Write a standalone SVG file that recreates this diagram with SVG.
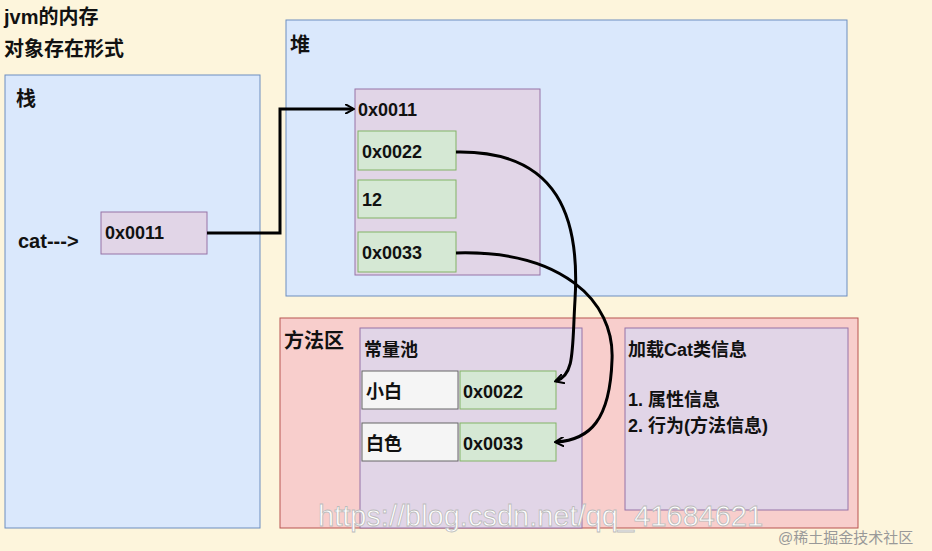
<svg xmlns="http://www.w3.org/2000/svg" width="932" height="551" viewBox="0 0 932 551">
<style>
text{font-family:"Liberation Sans","Noto Sans CJK SC",sans-serif;font-weight:bold;font-size:18px;fill:#111}
.big{font-size:20px}
.blue{fill:#dae8fc;stroke:#6c8ebf}
.red{fill:#f8cecc;stroke:#b85450}
.pur{fill:#e1d5e7;stroke:#9673a6}
.grn{fill:#d5e8d4;stroke:#82b366}
.wht{fill:#f5f5f5;stroke:#666}
.c{fill:none;stroke:#000;stroke-width:3}
</style>
<defs><marker id="a" markerWidth="10" markerHeight="10" refX="8" refY="5" orient="auto" markerUnits="userSpaceOnUse"><path d="M0,0 L9,5 L0,10" fill="none" stroke="#000" stroke-width="2"/></marker></defs>
<rect width="932" height="551" fill="#fdf5dc"/>
<g id="title"><text class="big" x="4" y="24">jvm的内存</text><text class="big" x="4" y="56">对象存在形式</text></g>
<g id="stack"><rect class="blue" x="5" y="75" width="255" height="453"/><text class="big" x="16" y="106">栈</text><text class="big" x="18" y="248">cat---&gt;</text></g>
<g id="cat"><rect class="pur" x="101" y="212" width="106" height="42"/><text x="105" y="239">0x0011</text></g>
<g id="heap"><rect class="blue" x="286" y="20" width="561" height="276"/><text class="big" x="290" y="52">堆</text></g>
<g id="obj"><rect class="pur" x="355" y="89" width="185" height="186"/><text x="358" y="116">0x0011</text>
<rect class="grn" x="358" y="131" width="98" height="39"/><text x="362" y="158">0x0022</text>
<rect class="grn" x="358" y="180" width="98" height="38"/><text x="362" y="206">12</text>
<rect class="grn" x="358" y="232" width="98" height="40"/><text x="362" y="259">0x0033</text></g>
<g id="method"><rect class="red" x="280" y="318" width="578" height="210"/><text class="big" x="284" y="348">方法区</text></g>
<g id="pool"><rect class="pur" x="360" y="328" width="222" height="200"/><text x="364" y="356">常量池</text>
<rect class="wht" x="362" y="371" width="96" height="38"/><text x="366" y="398">小白</text>
<rect class="grn" x="460" y="371" width="96" height="38"/><text x="463" y="398">0x0022</text>
<rect class="wht" x="362" y="423" width="96" height="38"/><text x="366" y="450">白色</text>
<rect class="grn" x="460" y="423" width="96" height="38"/><text x="463" y="450">0x0033</text></g>
<g id="catinfo"><rect class="pur" x="625" y="328" width="223" height="182"/><text x="628" y="356">加载Cat类信息</text><text x="628" y="406">1. 属性信息</text><text x="628" y="432">2. 行为(方法信息)</text></g>
<g id="connectors">
<path class="c" d="M207,233 H280 V109 H353" marker-end="url(#a)"/>
<path class="c" d="M456,152 C560,150 580,220 575,300 C572,350 575,375 556,381" marker-end="url(#a)"/>
<path class="c" d="M456,253 C560,250 615,300 612,360 C610,420 590,440 556,442" marker-end="url(#a)"/>
</g>
<g id="watermark"><text x="318" y="526" style="font-weight:normal;font-size:29px;fill:#fff;stroke:#bbb;stroke-width:0.8">https://blog.csdn.net/qq_41684621</text><text x="778" y="543" style="font-weight:normal;font-size:15px;fill:#999">@稀土掘金技术社区</text></g>
</svg>
